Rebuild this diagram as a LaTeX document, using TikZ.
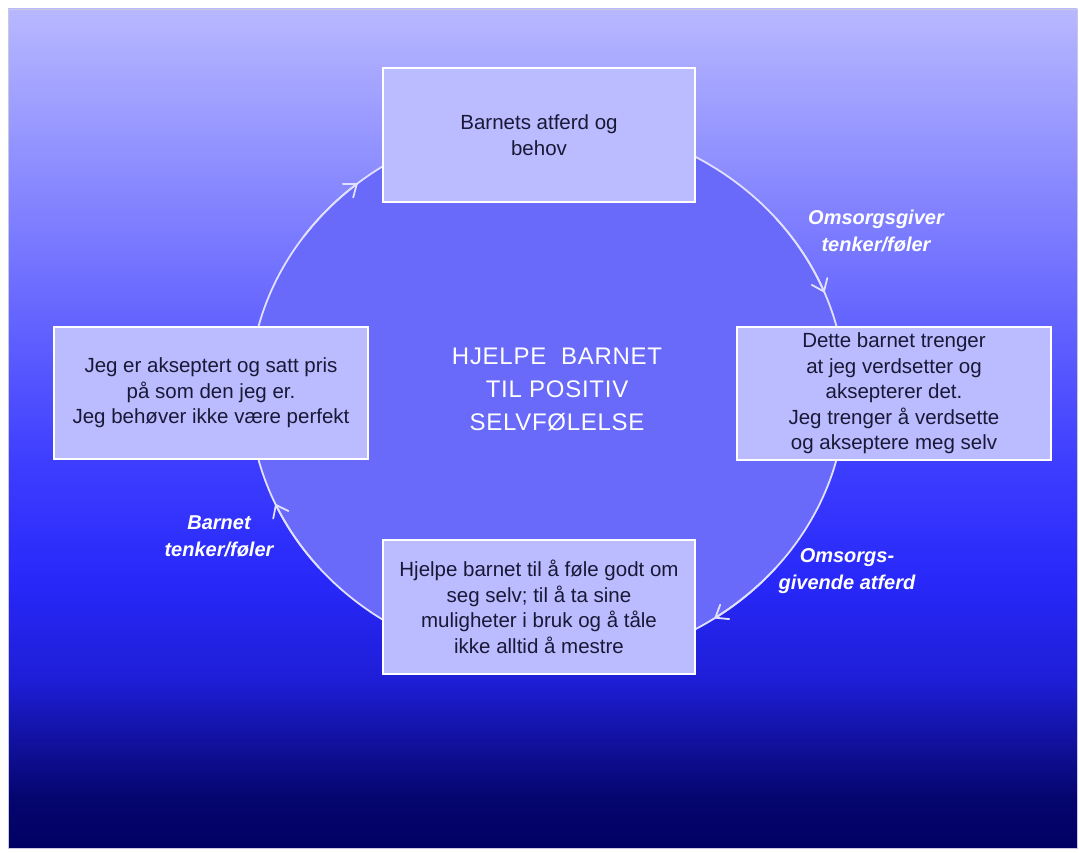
\documentclass[tikz,border=0pt]{standalone}
\usepackage{fontspec}
\setmainfont{Liberation Sans}
\usetikzlibrary{arrows.meta}

\definecolor{bgtop}{RGB}{184,184,255}
\definecolor{bgupper}{RGB}{62,62,255}
\definecolor{bgmid}{RGB}{40,40,250}
\definecolor{bgdeep}{RGB}{30,30,215}
\definecolor{bglow}{RGB}{15,15,150}
\definecolor{bgnavy}{RGB}{5,5,110}
\definecolor{bgbot}{RGB}{0,0,100}
\definecolor{ringfill}{RGB}{105,105,250}
\definecolor{ringline}{RGB}{225,225,255}
\definecolor{boxfill}{RGB}{187,187,255}
\definecolor{boxtext}{RGB}{25,25,55}
\definecolor{framecol}{RGB}{200,200,225}

% background: lavender at the top, bright blue lower down, navy at the bottom
\pgfdeclareverticalshading{bgshade}{100bp}{color(0bp)=(bgbot); color(25bp)=(bgbot); color(27.9bp)=(bgnavy); color(30.8bp)=(bglow); color(35bp)=(bgdeep); color(41bp)=(bgmid); color(48.1bp)=(bgupper); color(75bp)=(bgtop); color(100bp)=(bgtop)}

\tikzset{
  stagebox/.style={draw=white, line width=1.6pt, fill=boxfill, text=boxtext,
    align=center, inner sep=0pt, font=\fontsize{20.5}{25.5}\selectfont},
  cyclabel/.style={text=white, align=center, inner sep=0pt,
    font=\bfseries\itshape\fontsize{20}{27}\selectfont},
  ringarrow/.style={draw=ringline, line width=1.8pt,
    -{Straight Barb[length=11pt,width=17pt,line cap=round]}},
}

\begin{document}
\begin{tikzpicture}[x=1pt,y=-1pt]
\useasboundingbox (0,0) rectangle (1079,853);
\fill[white] (0,0) rectangle (1079,853);
\shade[shading=bgshade] (8,9) rectangle (1077,848);
\draw[framecol, line width=0.8pt] (8,9) rectangle (1077,848);

% the cycle ring
\coordinate (O) at (547.5,393);
\filldraw[fill=ringfill, draw=ringline, line width=1.8pt] (O) ellipse [x radius=298, y radius=272];

% arrowheads along the ring (clockwise)
\draw[ringarrow] plot[domain=-40:-21.6, samples=15, smooth] ({547.5+298*cos(\x)},{393+272*sin(\x)});
\draw[ringarrow] plot[domain=40:56, samples=15, smooth] ({547.5+298*cos(\x)},{393+272*sin(\x)});
\draw[ringarrow] plot[domain=140:156, samples=15, smooth] ({547.5+298*cos(\x)},{393+272*sin(\x)});
\draw[ringarrow] plot[domain=215:230.5, samples=15, smooth] ({547.5+298*cos(\x)},{393+272*sin(\x)});

% the four stages
\node[stagebox, minimum width=312pt, minimum height=134pt] (behov) at (539,135)
  {Barnets atferd og\\behov};
\node[stagebox, minimum width=314pt, minimum height=133pt] (verdsette) at (894,393.5)
  {Dette barnet trenger\\at jeg verdsetter og\\aksepterer det.\\Jeg trenger å verdsette\\og akseptere meg selv};
\node[stagebox, minimum width=312pt, minimum height=134pt] (hjelpe) at (539,607)
  {Hjelpe barnet til å føle godt om\\seg selv; til å ta sine\\muligheter i bruk og å tåle\\ikke alltid å mestre};
\node[stagebox, minimum width=314pt, minimum height=132pt] (akseptert) at (211,393)
  {Jeg er akseptert og satt pris\\på som den jeg er.\\Jeg behøver ikke være perfekt};

% centre title
\node[text=white, align=center, inner sep=0pt,
  font=\fontsize{24}{33}\selectfont\addfontfeatures{LetterSpace=3}] (title) at (557,390)
  {HJELPE\ \ BARNET\\TIL POSITIV\\SELVFØLELSE};

% ring labels
\node[cyclabel] (lab1) at (876,231) {Omsorgsgiver\\tenker/føler};
\node[cyclabel] (lab2) at (847,571) {Omsorgs-\\givende atferd};
\node[cyclabel] (lab3) at (219,536) {Barnet\\tenker/føler};
\end{tikzpicture}
\end{document}
